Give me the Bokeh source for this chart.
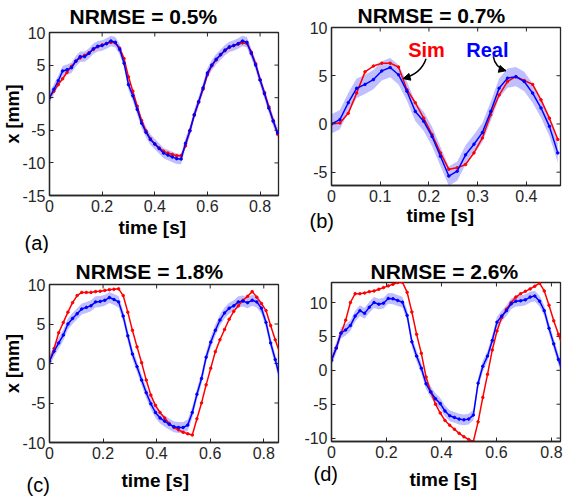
import math
from bokeh.plotting import figure
from bokeh.layouts import column, row
from bokeh.models import (Range1d, FixedTicker, Label, Arrow, NormalHead,
                          CustomJSTickFormatter, Title)
from bokeh.embed import file_html
from bokeh.resources import INLINE

# ---------------- data ----------------
dt_a = 1 / 60
real_a = [0, 1.3, 2.6, 4.1, 4.3, 4.6, 5.6, 6.3, 6.3, 6.8, 7.5, 7.9, 8.0, 8.3, 8.7, 8.5, 7.4, 5.3, 2.0, 0.3,
          -1.8, -3.9, -5.3, -6.4, -7.1, -7.8, -8.5, -8.8, -9.1, -9.35, -9.4, -7.0, -5.1, -2.6, -0.6, 1.5,
          3.8, 5.0, 5.9, 6.6, 7.3, 7.8, 8.0, 8.3, 8.7, 8.5, 6.8, 5.0, 2.7, 0.6, -1.6, -3.6, -5.4]
sim_a = [0, 1.0, 2.0, 2.9, 3.9, 4.8, 5.6, 6.1, 6.5, 6.9, 7.4, 7.8, 8.1, 8.3, 8.5, 8.4, 7.6, 6.0, 3.2, 1.0,
         -1.3, -3.5, -5.1, -6.3, -7.1, -7.7, -8.2, -8.5, -8.7, -8.9, -8.9, -7.4, -5.0, -2.7, -0.7, 1.3,
         3.5, 4.9, 5.8, 6.6, 7.2, 7.7, 8.0, 8.2, 8.4, 8.3, 7.0, 5.2, 2.8, 0.8, -1.4, -3.5, -5.6]
std_a = 0.8

dt_b = 0.0172
real_b = [0, 0.45, 2.2, 3.7, 4.1, 4.6, 5.5, 5.85, 5.1, 3.4, 1.3, 0.27, -1.3, -3.35, -5.4, -4.9, -3.2,
          -2.1, -0.9, 1.3, 3.7, 4.75, 4.9, 4.4, 3.2, 1.65, -0.25, -3.0]
sim_b = [0, 0.1, 1.1, 3.2, 5.4, 6.0, 6.3, 6.3, 5.9, 3.55, 2.2, 0.6, -1.1, -3.0, -4.7, -4.55, -4.2,
         -3.0, -1.45, 0.96, 3.0, 4.4, 4.9, 4.5, 4.1, 2.5, 0.6, -1.6]
std_b = 1.0

dt_c = 0.0172
real_c = [0.3, 1.55, 2.6, 3.6, 5.0, 5.7, 6.3, 6.9, 7.1, 7.3, 7.8, 7.85, 8.0, 8.35, 8.1, 7.8, 6.0, 3.5,
          1.2, -0.4, -2.1, -3.7, -5.1, -6.2, -6.9, -7.3, -7.7, -8.0, -8.1, -8.1, -7.8, -6.2, -3.9, -1.9,
          0.8, 2.7, 4.2, 5.5, 6.4, 7.0, 7.3, 7.8, 7.9, 7.7, 8.0, 7.8, 7.0, 5.2, 2.6, 0.5, -1.8]
sim_c = [0.3, 1.9, 3.9, 5.2, 6.5, 7.7, 8.6, 9.0, 9.0, 9.0, 9.1, 9.15, 9.25, 9.35, 9.4, 9.45, 8.6, 6.5,
         4.2, 2.1, 0.1, -2.1, -4.0, -5.3, -6.2, -6.9, -7.6, -8.1, -8.4, -8.7, -8.9, -9.05, -7.0, -5.0,
         -2.7, -0.6, 1.5, 3.0, 4.3, 5.6, 6.6, 7.3, 8.0, 8.5, 9.1, 8.4, 7.6, 6.7, 4.8, 3.0, 1.3]
std_c = 0.7

dt_d = 0.0172
real_d = [1.5, 3.3, 5.5, 5.95, 6.6, 8.0, 8.8, 8.4, 9.3, 10.0, 9.75, 9.9, 10.6, 10.55, 10.3, 10.05, 8.1,
          4.2, 2.1, 0.3, -2.0, -3.2, -4.2, -4.9, -6.0, -6.7, -6.95, -7.2, -7.3, -7.2, -6.6, -1.9, 0.6,
          2.1, 4.4, 7.1, 8.0, 8.8, 9.8, 10.2, 10.25, 10.4, 10.8, 10.95, 10.2, 8.8, 6.2, 3.9, 1.6, -0.5]
sim_d = [1.5, 3.25, 5.4, 7.4, 10.0, 11.3, 11.3, 11.4, 11.6, 11.7, 11.95, 12.2, 12.45, 12.7, 12.95, 13.0,
         11.5, 8.6, 5.3, 2.5, -1.0, -3.2, -5.0, -6.3, -7.4, -8.1, -8.7, -9.3, -9.8, -10.2, -10.5, -7.6,
         -4.0, -0.6, 3.0, 5.8, 7.8, 9.0, 10.0, 10.8, 11.3, 11.65, 12.0, 12.4, 12.85, 11.7, 9.6, 7.3, 5.3, 3.3]
std_d = 0.8

titles = ["NRMSE = 0.5%", "NRMSE = 0.7%", "NRMSE = 1.8%", "NRMSE = 2.6%"]
panel_tags = ["(a)", "(b)", "(c)", "(d)"]
xlabel = "time [s]"
ylabel = "x [mm]"

xticks_a = [0, 0.2, 0.4, 0.6, 0.8]
yticks_a = [-15, -10, -5, 0, 5, 10]
xticks_b = [0, 0.1, 0.2, 0.3, 0.4]
yticks_b = [-5, 0, 5, 10]
xticks_c = [0, 0.2, 0.4, 0.6, 0.8]
yticks_c = [-10, -5, 0, 5, 10]
xticks_d = [0, 0.2, 0.4, 0.6, 0.8]
yticks_d = [-10, -5, 0, 5, 10]

xr_a, yr_a = (0, 0.87), (-15, 10)
xr_b, yr_b = (0, 0.47), (-6.38, 10)
xr_c, yr_c = (0, 0.855), (-10, 10)
xr_d, yr_d = (0, 0.833), (-10.5, 12.95)

# ---------------- styling ----------------
FONT = "Liberation Sans"
AX = "#262626"
RED = "#ff0000"
BLUE = "#0000ff"


def panel(dt, real, sim, sd, xr, yr, xt, yt, w, h, bl, br, bt, bb, ylab):
    t = [i * dt for i in range(len(real))]
    p = figure(width=w, height=h, x_range=Range1d(*xr), y_range=Range1d(*yr),
               output_backend="svg", toolbar_location=None,
               min_border_left=bl, min_border_right=br, min_border_top=bt, min_border_bottom=bb)
    p.xgrid.visible = False
    p.ygrid.visible = False
    p.outline_line_color = AX
    p.outline_line_width = 1.3
    p.outline_line_alpha = 1.0
    fmt = CustomJSTickFormatter(code="return String(Math.round(tick*100)/100);")
    for ax, ticks in ((p.xaxis[0], xt), (p.yaxis[0], yt)):
        ax.ticker = FixedTicker(ticks=ticks)
        ax.formatter = fmt
        ax.major_label_text_font = FONT
        ax.major_label_text_font_size = "16px"
        ax.major_label_text_color = AX
        ax.major_label_standoff = 4
        ax.major_tick_in = 4
        ax.major_tick_out = 0
        ax.minor_tick_in = 0
        ax.minor_tick_out = 0
        ax.axis_line_color = AX
        ax.axis_line_width = 1.3
        ax.major_tick_line_color = AX
        ax.major_tick_line_width = 1
    if ylab:
        p.yaxis.axis_label = ylabel
        p.yaxis.axis_label_text_font = FONT
        p.yaxis.axis_label_text_font_size = "18px"
        p.yaxis.axis_label_text_font_style = "bold"
        p.yaxis.axis_label_text_color = "black"
        p.yaxis.axis_label_standoff = -4
    # inward ticks on the top and right edges of the box
    p.ray(x=xt, y=[yr[1]] * len(xt), length=4, length_units="screen", angle=-math.pi / 2,
          line_color=AX, line_width=1)
    p.ray(x=[xr[1]] * len(yt), y=yt, length=4, length_units="screen", angle=math.pi,
          line_color=AX, line_width=1)
    lo = [v - sd for v in real]
    hi = [v + sd for v in real]
    p.varea(x=t, y1=lo, y2=hi, fill_color=BLUE, fill_alpha=0.25)
    p.line(t, sim, line_color=RED, line_width=1.5)
    p.scatter(t, sim, size=2.5, color=RED)
    p.line(t, real, line_color=BLUE, line_width=1.5)
    p.scatter(t, real, size=2.5, color=BLUE)
    return p


def decorate(p, ttl, tag, t_off, t_so, t_va, x_off, x_so, x_va, g_off, g_so):
    p.title = Title(text=ttl, align="left", offset=t_off, standoff=t_so, vertical_align=t_va,
                    text_font=FONT, text_font_size="21px", text_font_style="bold",
                    text_color="black")
    p.add_layout(Title(text=xlabel, align="left", offset=x_off, standoff=x_so, vertical_align=x_va,
                       text_font=FONT, text_font_size="19px", text_font_style="bold",
                       text_color="black"), "below")
    p.add_layout(Title(text=tag, align="left", offset=g_off, standoff=g_so, vertical_align="top",
                       text_font=FONT, text_font_size="20px", text_font_style="normal",
                       text_color="black"), "below")


pa = panel(dt_a, real_a, sim_a, std_a, xr_a, yr_a, xticks_a, yticks_a, 284, 253, 48, 1, 32, 58, True)
pc = panel(dt_c, real_c, sim_c, std_c, xr_c, yr_c, xticks_c, yticks_c, 284, 244, 46, 6, 31, 54, True)
pb = panel(dt_b, real_b, sim_b, std_b, xr_b, yr_b, xticks_b, yticks_b, 284, 250, 47, 2, 27, 65, False)
pd = panel(dt_d, real_d, sim_d, std_d, xr_d, yr_d, xticks_d, yticks_d, 284, 247, 43, 8, 32, 56, False)

decorate(pa, titles[0], panel_tags[0], 20, 6, "top", 69, 4.5, "top", -25, -22)
decorate(pb, titles[1], panel_tags[1], 26, 1.5, "bottom", 75, 1, "top", -22, -37.6)
decorate(pc, titles[2], panel_tags[2], 26, 2.5, "bottom", 72, 13, "bottom", -23, -47.6)
decorate(pd, titles[3], panel_tags[3], 39, -1.5, "bottom", 78, 13, "bottom", -18, -67.6)

# legend-like annotations in panel (b)
sim_lbl = (0.195, 7.68)
real_lbl = (0.32, 7.68)
for s, (x, y), c in (("Sim", sim_lbl, RED), ("Real", real_lbl, BLUE)):
    pb.add_layout(Label(x=x, y=y, text=s, text_font=FONT, text_font_size="20px",
                        text_font_style="bold", text_align="center", text_baseline="alphabetic",
                        text_color=c))
sim_arrow = (0.194, 6.75, 0.184, 5.2, 0.147, 4.7)
real_arrow = (0.332, 7.0, 0.336, 5.82, 0.358, 5.52)
for (x0, y0, cx, cy, x1, y1) in (sim_arrow, real_arrow):
    pb.quadratic(x0=[x0], y0=[y0], cx=[cx], cy=[cy], x1=[x1], y1=[y1],
                 line_color="black", line_width=1.5)
    pb.add_layout(Arrow(end=NormalHead(size=7, fill_color="black", line_color="black"),
                        x_start=x1 - (x1 - cx) * 0.25, y_start=y1 - (y1 - cy) * 0.25,
                        x_end=x1, y_end=y1, line_color="black", line_width=1.5))

layout = row(column(pa, pc), column(pb, pd))
open("out.html", "w").write(file_html(layout, INLINE))
